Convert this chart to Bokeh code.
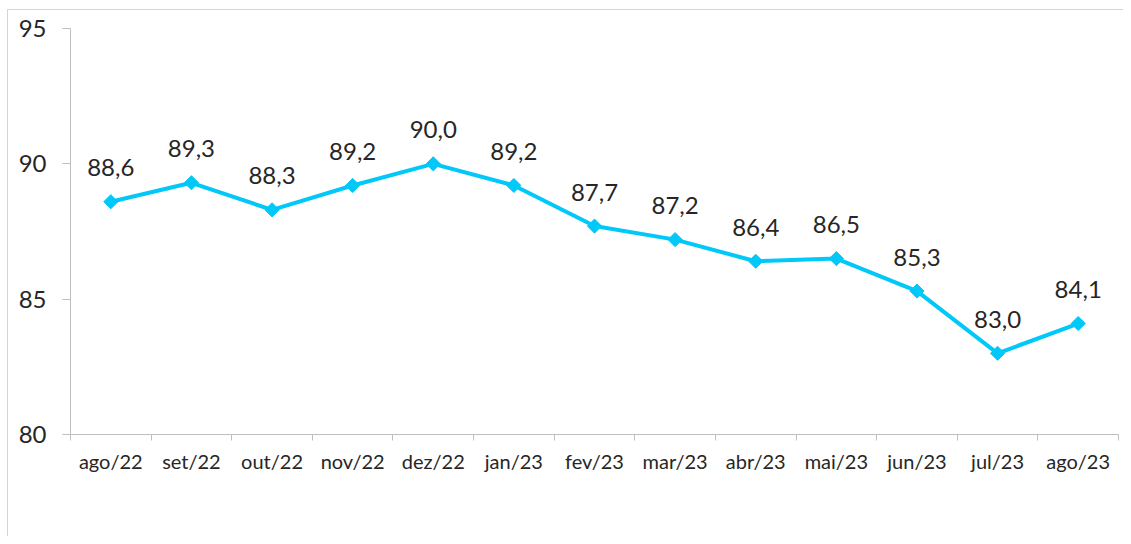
import math
from bokeh.plotting import figure
from bokeh.models import ColumnDataSource, FixedTicker, Range1d
from bokeh.core.properties import value
from bokeh.embed import file_html
from bokeh.resources import INLINE

months = ["ago/22", "set/22", "out/22", "nov/22", "dez/22", "jan/23", "fev/23",
          "mar/23", "abr/23", "mai/23", "jun/23", "jul/23", "ago/23"]
values = [88.6, 89.3, 88.3, 89.2, 90.0, 89.2, 87.7, 87.2, 86.4, 86.5, 85.3, 83.0, 84.1]
y_ticks = [80, 85, 90, 95]

FONT = "Lato"
LINE_COLOR = "#00C8F8"
TEXT_COLOR = "#262626"
AXIS_COLOR = "#BFBFBF"
BORDER = "#D4D4D4"

idx = list(range(len(months)))
labels = [f"{v:.1f}".replace(".", ",") for v in values]
src = ColumnDataSource(dict(x=idx, y=values, label=labels))

grad = f"linear-gradient({BORDER},{BORDER})"
p = figure(width=1123, height=536, output_backend="svg", toolbar_location=None,
           x_range=Range1d(-0.5, len(months) - 0.5), y_range=Range1d(80, 95),
           min_border_left=70, min_border_top=28, min_border_bottom=102,
           min_border_right=5,
           styles={"background-image": f"{grad}, {grad}",
                   "background-size": "1px 100%, 100% 1px",
                   "background-position": "7px 9px, 7px 9px",
                   "background-repeat": "no-repeat",
                   "background-color": "white"})
p.border_fill_color = None
p.background_fill_color = "white"
p.outline_line_color = None
p.xgrid.visible = False
p.ygrid.visible = False

p.line("x", "y", source=src, line_color=LINE_COLOR, line_width=4)
p.scatter("x", "y", source=src, marker="square", size=10, angle=math.pi / 4,
          fill_color=LINE_COLOR, line_color=LINE_COLOR)
p.text("x", "y", text="label", source=src, text_font=value(FONT),
       text_font_size="24px", text_color=TEXT_COLOR, text_align="center",
       text_baseline="alphabetic", y_offset=-34)

xa = p.xaxis[0]
xa.ticker = FixedTicker(ticks=idx, minor_ticks=[i - 0.5 for i in range(len(months) + 1)])
xa.major_label_overrides = {i: m for i, m in enumerate(months)}
xa.major_tick_out = 0
xa.major_tick_in = 0
xa.minor_tick_out = 6
xa.minor_tick_in = 0
xa.minor_tick_line_color = AXIS_COLOR
xa.axis_line_color = AXIS_COLOR
xa.major_label_text_font = FONT
xa.major_label_text_font_size = "20px"
xa.major_label_text_color = TEXT_COLOR
xa.major_label_standoff = 8

ya = p.yaxis[0]
ya.ticker = FixedTicker(ticks=y_ticks, minor_ticks=[])
ya.major_tick_out = 8
ya.major_tick_in = 0
ya.major_tick_line_color = AXIS_COLOR
ya.axis_line_color = AXIS_COLOR
ya.major_label_text_font = FONT
ya.major_label_text_font_size = "24px"
ya.major_label_text_color = TEXT_COLOR
ya.major_label_standoff = 16

open("out.html", "w").write(file_html(p, INLINE))
